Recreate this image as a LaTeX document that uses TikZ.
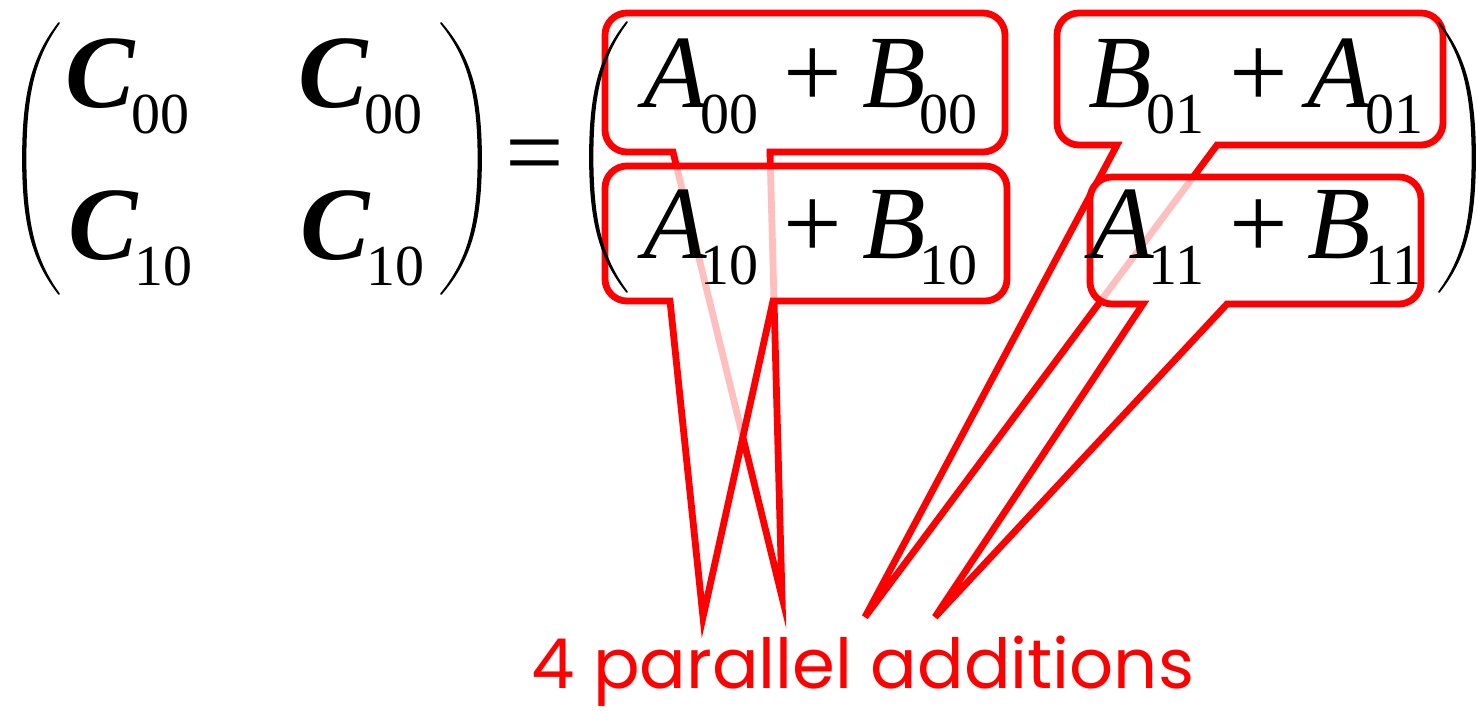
\documentclass[tikz,border=0pt]{standalone}
\usepackage{fontspec}
\setmainfont{Liberation Serif}
\newfontfamily\notefont{Poppins}
\newcommand\msz{\fontsize{104}{104}\selectfont}
\newcommand\ssz{\fontsize{58}{58}\selectfont}
\newcommand\ent[2]{{\msz\itshape #1}\kern-6pt\raisebox{-26pt}{\ssz #2}}
\newcommand\cent[2]{{\msz\bfseries\itshape #1}\kern-3pt\raisebox{-26pt}{\ssz #2}}
\newcommand\sumentry[4]{\llap{\ent{#1}{#2}\hspace{25pt}}{\msz+}\rlap{\hspace{20pt}\ent{#3}{#4}}}
\newcommand\calloutbox[9]{%
  \draw[calloutline,#9] ({#1+22},{-#3}) -- ({#2-22},{-#3})
    arc[start angle=90,end angle=0,radius=22pt] -- ({#2},{-#4+22})
    arc[start angle=0,end angle=-90,radius=22pt] -- ({#6},{-#4})
    -- ({#7},{-#8}) -- ({#5},{-#4}) -- ({#1+22},{-#4})
    arc[start angle=270,end angle=180,radius=22pt] -- ({#1},{-#3-22})
    arc[start angle=180,end angle=90,radius=22pt] -- cycle;}
\newcommand\bigparen[5]{%
  \filldraw[parenline] (#1,-#4)
    .. controls ({#2+0.3*(#1-#2)},{-#4-0.12*(#5-#4)}) and (#2,{-#4-0.25*(#5-#4)}) .. (#2,{-(#4+#5)/2})
    .. controls (#2,{-#5+0.25*(#5-#4)}) and ({#2+0.3*(#1-#2)},{-#5+0.12*(#5-#4)}) .. (#1,-#5)
    .. controls ({#3+0.3*(#1-#3)},{-#5+0.12*(#5-#4)}) and (#3,{-#5+0.25*(#5-#4)}) .. (#3,{-(#4+#5)/2})
    .. controls (#3,{-#4-0.25*(#5-#4)}) and ({#3+0.3*(#1-#3)},{-#4-0.12*(#5-#4)}) .. (#1,-#4) -- cycle;}
\tikzset{
  calloutline/.style={draw=red, line width=6.8pt, fill=white, line join=miter},
  faded/.style={fill opacity=0.75},
  parenline/.style={draw=black, fill=black, line width=1.8pt, line cap=round, line join=round},
  entry/.style={inner sep=0pt, outer sep=0pt, text=black},
  note/.style={inner sep=0pt, text=red, font=\notefont\fontsize{69}{70}\selectfont}
}
\begin{document}
\begin{tikzpicture}[x=1pt,y=1pt]
\useasboundingbox (0,0) rectangle (1478,-710);
% callouts: back pair
\calloutbox{605}{1005}{13}{152}{673}{770}{782}{597}{}
\calloutbox{1057}{1443}{13}{145}{1117}{1217}{865}{617}{}
% callouts: front pair (semi-transparent fill)
\calloutbox{605}{1007}{166}{301}{670}{773}{703}{617}{faded}
\calloutbox{1090}{1421}{177}{304}{1143}{1227}{935}{617}{faded}
% parentheses
\bigparen{59}{23}{25.5}{23}{294}
\bigparen{441}{481}{478.5}{23}{294}
\bigparen{627}{590}{592.5}{22}{292}
\bigparen{1439}{1475}{1472.5}{23}{292}
% left matrix
\node[entry, anchor=base west] (c00a) at (65,-107) {\cent{C}{00}};
\node[entry, anchor=base west] (c00b) at (298,-107) {\cent{C}{00}};
\node[entry, anchor=base west] (c10a) at (68,-259) {\cent{C}{10}};
\node[entry, anchor=base west] (c10b) at (300,-259) {\cent{C}{10}};
\node[entry, anchor=base] (eq) at (535,-187) {\msz=};
% right matrix
\node[entry, anchor=base] (s00) at (813,-107) {\sumentry{A}{00}{B}{00}};
\node[entry, anchor=base] (s01) at (1258.5,-107) {\sumentry{B}{01}{A}{01}};
\node[entry, anchor=base] (s10) at (813,-258) {\sumentry{A}{10}{B}{10}};
\node[entry, anchor=base] (s11) at (1258.5,-258) {\sumentry{A}{11}{B}{11}};
% note
\node[note, anchor=base west] (note) at (531,-688) {4 parallel additions};
\end{tikzpicture}
\end{document}
